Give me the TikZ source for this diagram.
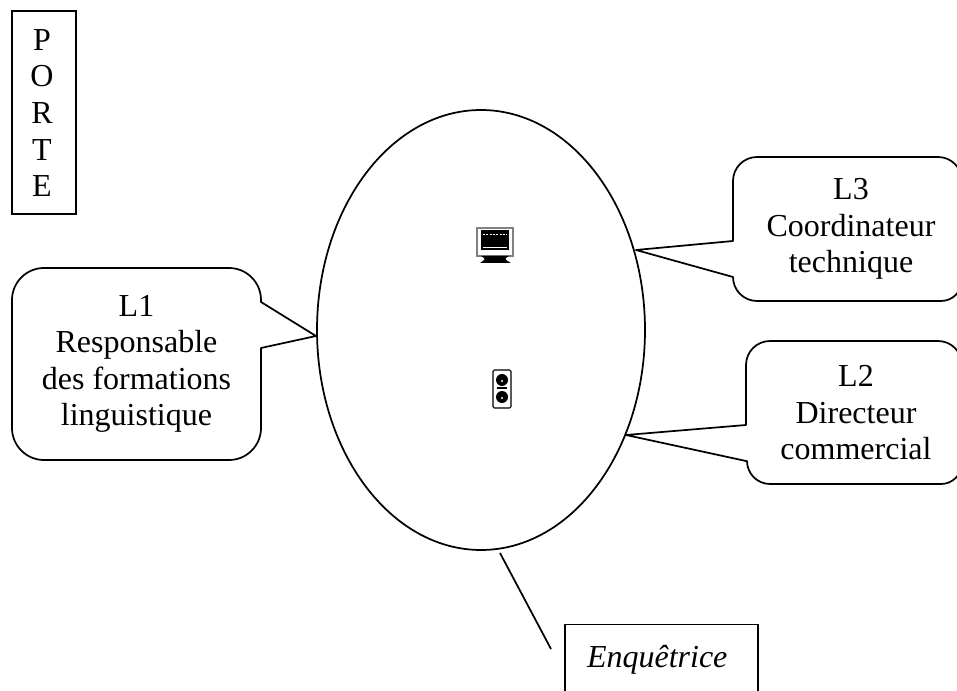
\documentclass[tikz,border=0pt]{standalone}
\usepackage{fontspec}
\usetikzlibrary{shapes.geometric}
\setmainfont{Liberation Serif}
\tikzset{
  label text/.style={align=center, font=\fontsize{24}{27.4}\selectfont, inner sep=0pt},
  bubble/.style={draw=black, fill=white, line width=1.3pt, line join=round},
  icon dark/.style={fill=black, draw=none}
}
\begin{document}
\begin{tikzpicture}[x=0.75pt, y=-0.75pt]
\useasboundingbox (0,0) rectangle (957,691);
% door
\node [draw, line width=1.3pt, minimum width=48.5pt, minimum height=152pt] (porte) at (44,112.5) {};
\node [label text] (portetext) at (42,113) {P\\O\\R\\T\\E};
% table
\node [draw, ellipse, line width=1.3pt, minimum width=246pt, minimum height=330pt, inner sep=0pt] (table) at (481,330) {};
% speakers
\coordinate (tipA) at (316,336);
\coordinate (tipB) at (636,250);
\coordinate (tipC) at (626,435);
\draw [bubble] (tipA) -- (261,348) -- (261,428) arc (0:90:32) -- (44,460) arc (90:180:32) -- (12,300) arc (180:270:32) -- (229,268) arc (270:360:32) -- (261,302) -- cycle;
\draw [bubble] (tipB) -- (733,241) -- (733,181) arc (180:270:24) -- (938,157) arc (270:360:24) -- (962,280) arc (0:90:21) -- (757,301) arc (90:180:24) -- (733,277) -- cycle;
\draw [bubble] (tipC) -- (746,425) -- (746,365) arc (180:270:24) -- (938,341) arc (270:360:24) -- (962,463) arc (0:90:21) -- (770,484) arc (90:180:23) -- (746,461) -- cycle;
\node [label text] (lone) at (136.5,364) {L1\\Responsable\\des formations\\linguistique};
\node [label text] (lthree) at (851,229) {L3\\Coordinateur\\technique};
\node [label text] (ltwo) at (856,413) {L2\\Directeur\\commercial};
% interviewer, cut by the page
\node [draw, line width=1.3pt, minimum height=52.5pt, inner xsep=16.5pt, inner ysep=0pt, text width=111.75pt, align=left, font=\fontsize{24}{27.4}\selectfont\itshape] (enq) at (661.5,659.5) {Enquêtrice};
\coordinate (lineA) at (500,553);
\coordinate (lineB) at (551,649);
\draw [line width=1.3pt] (lineA) -- (lineB);
% computer
\draw [draw=gray, line width=0.8pt, fill=white] (477,228) rectangle (513,256);
\fill [icon dark] (481,230) rectangle (509,250);
\draw [white, line width=0.6pt, dash pattern=on 1.5pt off 1pt] (483,234) -- (507,234);
\draw [white, line width=0.6pt] (483,247.5) -- (507,247.5);
\fill [icon dark] (481,256) -- (509,256) .. controls (504,259) .. (511,263) -- (480,263) .. controls (486,259) .. cycle;
% recorder
\draw [line width=0.8pt, fill=white, rounded corners=1pt] (493,370) rectangle (511,408);
\fill [icon dark] (502,380) circle (6);
\fill [icon dark] (502,397) circle (6);
\fill [white] (502,381) circle (1.2);
\fill [white] (502,398) circle (1.2);
\fill [icon dark] (497,387.5) rectangle (507,389);
\end{tikzpicture}
\end{document}
